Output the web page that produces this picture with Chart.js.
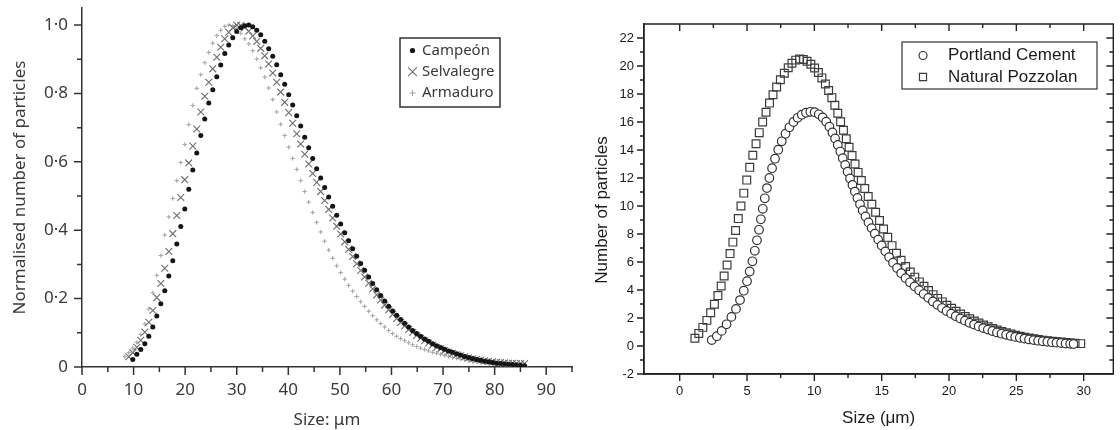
<!DOCTYPE html>
<html>
<head>
<meta charset="utf-8">
<script src="https://cdn.jsdelivr.net/npm/chart.js@4"></script>
<style>
  body { margin: 0; background: #fff; }
  .panel { position: absolute; top: 0; height: 430px; }
</style>
</head>
<body>
<div class="panel" style="left:0;width:580px"><canvas id="left" width="580" height="430"></canvas></div>
<div class="panel" style="left:585px;width:535px"><canvas id="right" width="535" height="430"></canvas></div>
<script>
// ---- left panel: normalised size distributions of three sands ----
const sizes = [
  8.30, 9.08, 9.85, 10.63, 11.40, 12.18, 12.95, 13.73, 14.50, 15.28,
  16.05, 16.83, 17.60, 18.38, 19.15, 19.93, 20.70, 21.48, 22.25, 23.03,
  23.80, 24.58, 25.35, 26.13, 26.90, 27.68, 28.45, 29.23, 30.00, 30.78,
  31.55, 32.33, 33.10, 33.88, 34.65, 35.43, 36.20, 36.98, 37.75, 38.53,
  39.30, 40.08, 40.85, 41.63, 42.40, 43.18, 43.95, 44.73, 45.50, 46.28,
  47.05, 47.83, 48.60, 49.38, 50.15, 50.93, 51.70, 52.48, 53.25, 54.03,
  54.80, 55.58, 56.35, 57.13, 57.90, 58.68, 59.45, 60.23, 61.00, 61.78,
  62.55, 63.33, 64.10, 64.88, 65.65, 66.43, 67.20, 67.98, 68.75, 69.53,
  70.30, 71.08, 71.85, 72.63, 73.40, 74.18, 74.95, 75.73, 76.50, 77.28,
  78.05, 78.83, 79.60, 80.38, 81.15, 81.93, 82.70, 83.48, 84.25, 85.03,
  85.80
];
const campeon = [
  null, null, 0.022, 0.037, 0.051, 0.068, 0.090, 0.117, 0.149, 0.185,
  0.223, 0.266, 0.311, 0.360, 0.411, 0.462, 0.520, 0.576, 0.626, 0.677,
  0.725, 0.772, 0.811, 0.849, 0.883, 0.917, 0.942, 0.963, 0.981, 0.992,
  0.998, 1.000, 0.995, 0.985, 0.972, 0.953, 0.931, 0.909, 0.884, 0.855,
  0.827, 0.796, 0.766, 0.735, 0.705, 0.672, 0.641, 0.610, 0.580, 0.553,
  0.525, 0.497, 0.470, 0.444, 0.418, 0.393, 0.369, 0.346, 0.324, 0.303,
  0.283, 0.263, 0.244, 0.226, 0.209, 0.193, 0.178, 0.164, 0.151, 0.139,
  0.128, 0.117, 0.107, 0.098, 0.090, 0.082, 0.075, 0.068, 0.062, 0.057,
  0.052, 0.047, 0.043, 0.039, 0.035, 0.031, 0.028, 0.025, 0.022, 0.020,
  0.017, 0.015, 0.013, 0.011, 0.010, 0.009, 0.008, 0.007, 0.006, 0.005,
  0.004
];
const selvalegre = [
  null, 0.030, 0.042, 0.058, 0.078, 0.102, 0.131, 0.165, 0.203, 0.244,
  0.289, 0.338, 0.390, 0.443, 0.496, 0.548, 0.597, 0.646, 0.696, 0.746,
  0.792, 0.833, 0.872, 0.906, 0.935, 0.960, 0.979, 0.992, 1.000, 0.999,
  0.993, 0.982, 0.968, 0.952, 0.932, 0.910, 0.886, 0.860, 0.833, 0.804,
  0.774, 0.744, 0.713, 0.682, 0.652, 0.622, 0.594, 0.566, 0.540, 0.513,
  0.487, 0.461, 0.436, 0.412, 0.389, 0.366, 0.344, 0.323, 0.302, 0.282,
  0.263, 0.245, 0.228, 0.211, 0.196, 0.181, 0.167, 0.154, 0.142, 0.130,
  0.120, 0.110, 0.101, 0.092, 0.084, 0.077, 0.070, 0.064, 0.058, 0.053,
  0.048, 0.044, 0.040, 0.036, 0.033, 0.030, 0.027, 0.024, 0.022, 0.020,
  0.018, 0.016, 0.015, 0.014, 0.013, 0.012, 0.011, 0.011, 0.010, 0.010,
  0.010
];
const armaduro = [
  0.030, 0.042, 0.055, 0.072, 0.095, 0.126, 0.170, 0.217, 0.268, 0.326,
  0.386, 0.439, 0.493, 0.545, 0.598, 0.651, 0.709, 0.765, 0.815, 0.855,
  0.890, 0.920, 0.947, 0.969, 0.985, 0.996, 1.000, 0.998, 0.990, 0.976,
  0.960, 0.945, 0.925, 0.901, 0.875, 0.848, 0.816, 0.782, 0.746, 0.710,
  0.677, 0.643, 0.610, 0.578, 0.545, 0.513, 0.482, 0.452, 0.423, 0.395,
  0.368, 0.342, 0.318, 0.296, 0.276, 0.257, 0.239, 0.222, 0.206, 0.191,
  0.177, 0.163, 0.150, 0.138, 0.127, 0.117, 0.107, 0.098, 0.090, 0.083,
  0.077, 0.071, 0.065, 0.060, 0.055, 0.051, 0.047, 0.043, 0.040, 0.037,
  0.034, 0.031, 0.028, 0.026, 0.023, 0.021, 0.019, 0.017, 0.016, 0.014,
  0.013, 0.011, 0.010, 0.009, 0.008, 0.007, 0.006, 0.005, 0.005, null,
  null
];
const leftXTicks = [0, 5, 10, 15, 20, 25, 30, 35, 40, 45, 50, 55, 60, 65, 70, 75, 80, 85, 90, 95];
const leftXMajor = [0, 10, 20, 30, 40, 50, 60, 70, 80, 90];
const leftYTicks = [0, 0.1, 0.2, 0.3, 0.4, 0.5, 0.6, 0.7, 0.8, 0.9, 1.0];
const leftYMajor = [0, 0.2, 0.4, 0.6, 0.8, 1.0];
const leftYLabels = ['0', '0·2', '0·4', '0·6', '0·8', '1·0'];

// ---- right panel: cement vs pozzolan particle counts ----
const cementSize = [
  2.38, 2.76, 3.12, 3.48, 3.84, 4.18, 4.48, 4.76, 5.00, 5.20,
  5.40, 5.58, 5.74, 5.89, 6.03, 6.17, 6.32, 6.48, 6.66, 6.86,
  7.08, 7.32, 7.58, 7.86, 8.15, 8.45, 8.76, 9.07, 9.38, 9.70,
  10.02, 10.33, 10.62, 10.88, 11.12, 11.34, 11.54, 11.74, 11.93, 12.11,
  12.29, 12.47, 12.65, 12.83, 13.01, 13.20, 13.39, 13.59, 13.80, 14.02,
  14.25, 14.49, 14.74, 15.00, 15.27, 15.55, 15.84, 16.14, 16.45, 16.77,
  17.10, 17.44, 17.78, 18.12, 18.46, 18.80, 19.14, 19.48, 19.82, 20.16,
  20.50, 20.84, 21.18, 21.52, 21.86, 22.20, 22.54, 22.88, 23.22, 23.56,
  23.90, 24.24, 24.58, 24.92, 25.26, 25.60, 25.94, 26.28, 26.62, 26.96,
  27.30, 27.64, 27.98, 28.32, 28.66, 29.00, 29.25
];
const cementCount = [
  0.42, 0.70, 1.08, 1.55, 2.08, 2.65, 3.28, 3.95, 4.63, 5.32,
  6.05, 6.80, 7.55, 8.30, 9.05, 9.80, 10.55, 11.28, 12.00, 12.70,
  13.38, 14.02, 14.62, 15.16, 15.62, 16.00, 16.30, 16.52, 16.66, 16.73,
  16.70, 16.55, 16.32, 16.02, 15.66, 15.25, 14.82, 14.36, 13.89, 13.41,
  12.93, 12.45, 11.97, 11.50, 11.03, 10.57, 10.12, 9.68, 9.25, 8.83,
  8.42, 8.02, 7.60, 7.18, 6.76, 6.35, 5.95, 5.57, 5.20, 4.85,
  4.55, 4.26, 3.98, 3.71, 3.44, 3.18, 2.94, 2.71, 2.50, 2.31,
  2.13, 1.96, 1.81, 1.66, 1.53, 1.40, 1.28, 1.17, 1.07, 0.97,
  0.88, 0.80, 0.72, 0.65, 0.59, 0.53, 0.47, 0.42, 0.38, 0.34,
  0.30, 0.27, 0.24, 0.21, 0.18, 0.16, 0.14
];
const pozzolanSize = [
  1.13, 1.42, 1.72, 2.02, 2.30, 2.58, 2.84, 3.08, 3.30, 3.52,
  3.74, 3.95, 4.15, 4.35, 4.55, 4.76, 4.98, 5.20, 5.43, 5.67,
  5.91, 6.16, 6.41, 6.67, 6.93, 7.20, 7.48, 7.77, 8.06, 8.34,
  8.62, 8.90, 9.18, 9.46, 9.74, 10.02, 10.30, 10.56, 10.82, 11.06,
  11.30, 11.52, 11.74, 11.95, 12.16, 12.37, 12.58, 12.80, 13.02, 13.25,
  13.49, 13.74, 14.00, 14.27, 14.55, 14.84, 15.14, 15.45, 15.77, 16.10,
  16.44, 16.78, 17.12, 17.46, 17.80, 18.14, 18.48, 18.82, 19.16, 19.50,
  19.84, 20.18, 20.52, 20.86, 21.20, 21.54, 21.88, 22.22, 22.56, 22.90,
  23.24, 23.58, 23.92, 24.26, 24.60, 24.94, 25.28, 25.62, 25.96, 26.30,
  26.64, 26.98, 27.32, 27.66, 28.00, 28.34, 28.68, 29.02, 29.36, 29.78
];
const pozzolanCount = [
  0.55, 0.90, 1.33, 1.83, 2.38, 2.98, 3.60, 4.28, 5.00, 5.78,
  6.60, 7.42, 8.25, 9.10, 10.00, 10.92, 11.85, 12.76, 13.62, 14.45,
  15.24, 16.00, 16.70, 17.35, 17.95, 18.50, 19.02, 19.48, 19.88, 20.20,
  20.42, 20.50, 20.46, 20.34, 20.12, 19.86, 19.53, 19.15, 18.72, 18.25,
  17.74, 17.20, 16.62, 16.02, 15.41, 14.80, 14.20, 13.60, 13.00, 12.40,
  11.82, 11.25, 10.68, 10.12, 9.55, 8.96, 8.36, 7.76, 7.17, 6.62,
  6.12, 5.68, 5.28, 4.92, 4.58, 4.26, 3.96, 3.67, 3.40, 3.15,
  2.91, 2.69, 2.48, 2.29, 2.11, 1.94, 1.78, 1.64, 1.50, 1.37,
  1.25, 1.14, 1.04, 0.94, 0.85, 0.77, 0.70, 0.63, 0.57, 0.51,
  0.46, 0.42, 0.38, 0.34, 0.31, 0.28, 0.25, 0.22, 0.20, 0.17
];
const rightXTicks = [0, 2.5, 5, 7.5, 10, 12.5, 15, 17.5, 20, 22.5, 25, 27.5, 30];
const rightXMajor = [0, 5, 10, 15, 20, 25, 30];
const rightYTicks = [-2, -1, 0, 1, 2, 3, 4, 5, 6, 7, 8, 9, 10, 11, 12, 13, 14, 15, 16, 17, 18, 19, 20, 21, 22];
const rightYMajor = [-2, 0, 2, 4, 6, 8, 10, 12, 14, 16, 18, 20, 22];

function points(xs, ys) {
  return xs.map((x, i) => ({x: x, y: ys[i]})).filter(p => p.y !== null);
}

function fixedTicks(values, majors) {
  return function(scale) {
    scale.ticks = values.map(v => ({value: v, big: majors.includes(v)}));
  };
}

function fixedBox(size) {
  return function(scale) {
    if (scale.isHorizontal()) scale.height = size; else scale.width = size;
    scale.paddingTop = scale.paddingBottom = scale.paddingLeft = scale.paddingRight = 0;
  };
}

// tick marks (long on labelled values, short in between), mirrored inward when boxed
const axisMarks = {
  id: 'axisMarks',
  afterDraw(chart, args, o) {
    const {ctx, chartArea: a, scales: {x, y}} = chart;
    ctx.save();
    ctx.strokeStyle = o.color;
    ctx.lineWidth = o.width;
    ctx.beginPath();
    if (o.box) ctx.rect(a.left, a.top, a.right - a.left, a.bottom - a.top);
    x.ticks.forEach(t => {
      const px = x.getPixelForValue(t.value);
      const len = t.big ? o.major : o.minor;
      ctx.moveTo(px, a.bottom);
      ctx.lineTo(px, a.bottom + len);
      if (o.box) { ctx.moveTo(px, a.top); ctx.lineTo(px, a.top + len); }
    });
    y.ticks.forEach(t => {
      const py = y.getPixelForValue(t.value);
      const len = t.big ? o.major : o.minor;
      ctx.moveTo(a.left, py);
      ctx.lineTo(a.left - len, py);
      if (o.box) { ctx.moveTo(a.right, py); ctx.lineTo(a.right - len, py); }
    });
    ctx.stroke();
    ctx.restore();
  }
};

// framed legend inside the plot area
const boxLegend = {
  id: 'boxLegend',
  afterDraw(chart, args, o) {
    const ctx = chart.ctx;
    ctx.save();
    ctx.strokeStyle = o.border;
    ctx.lineWidth = o.borderWidth;
    ctx.strokeRect(o.left, o.top, o.width, o.height);
    ctx.font = o.font;
    ctx.textBaseline = 'middle';
    chart.data.datasets.forEach((ds, i) => {
      const y = o.rows[i];
      ctx.save();
      ctx.fillStyle = ds.backgroundColor;
      ctx.strokeStyle = ds.borderColor;
      ctx.lineWidth = ds.borderWidth;
      Chart.helpers.drawPoint(ctx, {pointStyle: ds.pointStyle, radius: o.radius[i], borderWidth: ds.borderWidth, rotation: 0}, o.markerX, y);
      ctx.restore();
      ctx.fillStyle = o.color;
      ctx.fillText(ds.label, o.textX, y);
    });
    ctx.restore();
  }
};

// rotated y title placed freely
const sideTitle = {
  id: 'sideTitle',
  afterDraw(chart, args, o) {
    if (!o.text) return;
    const ctx = chart.ctx;
    ctx.save();
    ctx.translate(o.x, o.y);
    ctx.rotate(-Math.PI / 2);
    ctx.font = o.font;
    ctx.fillStyle = o.color;
    ctx.textAlign = 'center';
    ctx.textBaseline = 'middle';
    ctx.fillText(o.text, 0, 0);
    ctx.restore();
  }
};

const leftFont = '"Noto Sans", sans-serif';
const leftInk = '#3a3a3a';

new Chart(document.getElementById('left'), {
  type: 'scatter',
  data: {
    datasets: [
      {label: 'Campeón', data: points(sizes, campeon), pointStyle: 'circle', radius: 2.5,
       backgroundColor: '#141414', borderColor: '#141414', borderWidth: 0},
      {label: 'Selvalegre', data: points(sizes, selvalegre), pointStyle: 'crossRot', radius: 4.8,
       backgroundColor: '#6e6e6e', borderColor: '#6e6e6e', borderWidth: 1.1},
      {label: 'Armaduro', data: points(sizes, armaduro), pointStyle: 'cross', radius: 2.2,
       backgroundColor: '#a2a2a2', borderColor: '#a2a2a2', borderWidth: 1}
    ]
  },
  options: {
    responsive: false,
    animation: false,
    events: [],
    layout: {padding: {left: 0, top: 8, right: 8, bottom: 0}},
    plugins: {
      legend: {display: false},
      tooltip: {enabled: false},
      axisMarks: {color: '#333', width: 1.5, major: 8, minor: 5, box: false},
      boxLegend: {left: 400, top: 38, width: 100, height: 69, border: '#333', borderWidth: 1.5,
                  rows: [50.5, 71.7, 93], markerX: 412.5, textX: 422, radius: [2.6, 6.2, 3],
                  font: '15px ' + leftFont, color: leftInk},
      sideTitle: {}
    },
    scales: {
      x: {
        type: 'linear', min: 0, max: 95,
        afterBuildTicks: fixedTicks(leftXTicks, leftXMajor),
        afterFit: fixedBox(63),
        grid: {display: false, drawTicks: false},
        border: {display: true, color: '#333', width: 1.5},
        ticks: {autoSkip: false, maxRotation: 0, padding: 13, color: leftInk,
                font: {family: leftFont, size: 17},
                callback: v => leftXMajor.includes(v) ? String(v) : ''},
        title: {display: true, text: 'Size: μm', color: leftInk, padding: {top: 0, bottom: 0},
                font: {family: leftFont, size: 17}}
      },
      y: {
        type: 'linear', min: 0, max: 1.05,
        afterBuildTicks: fixedTicks(leftYTicks, leftYMajor),
        afterFit: fixedBox(82),
        grid: {display: false, drawTicks: false},
        border: {display: true, color: '#333', width: 1.5},
        ticks: {autoSkip: false, padding: 14, color: leftInk,
                font: {family: leftFont, size: 17},
                callback: v => {
                  const i = leftYMajor.indexOf(v);
                  return i >= 0 ? leftYLabels[i] : '';
                }},
        title: {display: true, text: 'Normalised number of particles', color: leftInk,
                padding: {top: 10, bottom: 0}, font: {family: leftFont, size: 17}}
      }
    }
  },
  plugins: [axisMarks, boxLegend, sideTitle]
});

const rightFont = '"Liberation Sans", Arial, sans-serif';
const rightInk = '#1c1c1c';

new Chart(document.getElementById('right'), {
  type: 'scatter',
  data: {
    datasets: [
      {label: 'Portland Cement', data: points(cementSize, cementCount), pointStyle: 'circle', radius: 4.3,
       backgroundColor: '#ffffff', borderColor: '#333333', borderWidth: 1.2},
      {label: 'Natural Pozzolan', data: points(pozzolanSize, pozzolanCount), pointStyle: 'rect', radius: 5.5,
       backgroundColor: 'rgba(255,255,255,0)', borderColor: '#3c3c3c', borderWidth: 1.2}
    ]
  },
  options: {
    responsive: false,
    animation: false,
    events: [],
    layout: {padding: {left: 0, top: 24, right: 3, bottom: 0}},
    plugins: {
      legend: {display: false},
      tooltip: {enabled: false},
      axisMarks: {color: '#222', width: 1.4, major: 7, minor: 4, box: true},
      boxLegend: {left: 317, top: 42, width: 195, height: 47, border: '#333', borderWidth: 1.2,
                  rows: [55.5, 77], markerX: 338, textX: 363, radius: [4, 5],
                  font: '17px ' + rightFont, color: rightInk},
      sideTitle: {text: 'Number of particles', x: 17, y: 210, font: '17px ' + rightFont, color: rightInk}
    },
    scales: {
      x: {
        type: 'linear', min: -2.65, max: 32.2,
        afterBuildTicks: fixedTicks(rightXTicks, rightXMajor),
        afterFit: fixedBox(56),
        grid: {display: false, drawTicks: false},
        border: {display: true, color: '#222', width: 1.4},
        ticks: {autoSkip: false, maxRotation: 0, padding: 10, color: rightInk,
                font: {family: rightFont, size: 13},
                callback: v => rightXMajor.includes(v) ? String(v) : ''},
        title: {display: true, text: 'Size (μm)', color: rightInk, padding: {top: 0, bottom: 1},
                font: {family: rightFont, size: 17}}
      },
      y: {
        type: 'linear', min: -2, max: 23,
        afterBuildTicks: fixedTicks(rightYTicks, rightYMajor),
        afterFit: fixedBox(59),
        grid: {display: false, drawTicks: false},
        border: {display: true, color: '#222', width: 1.4},
        ticks: {autoSkip: false, padding: 10, color: rightInk,
                font: {family: rightFont, size: 13},
                callback: v => rightYMajor.includes(v) ? String(v) : ''}
      }
    }
  },
  plugins: [axisMarks, boxLegend, sideTitle]
});
</script>
</body>
</html>
